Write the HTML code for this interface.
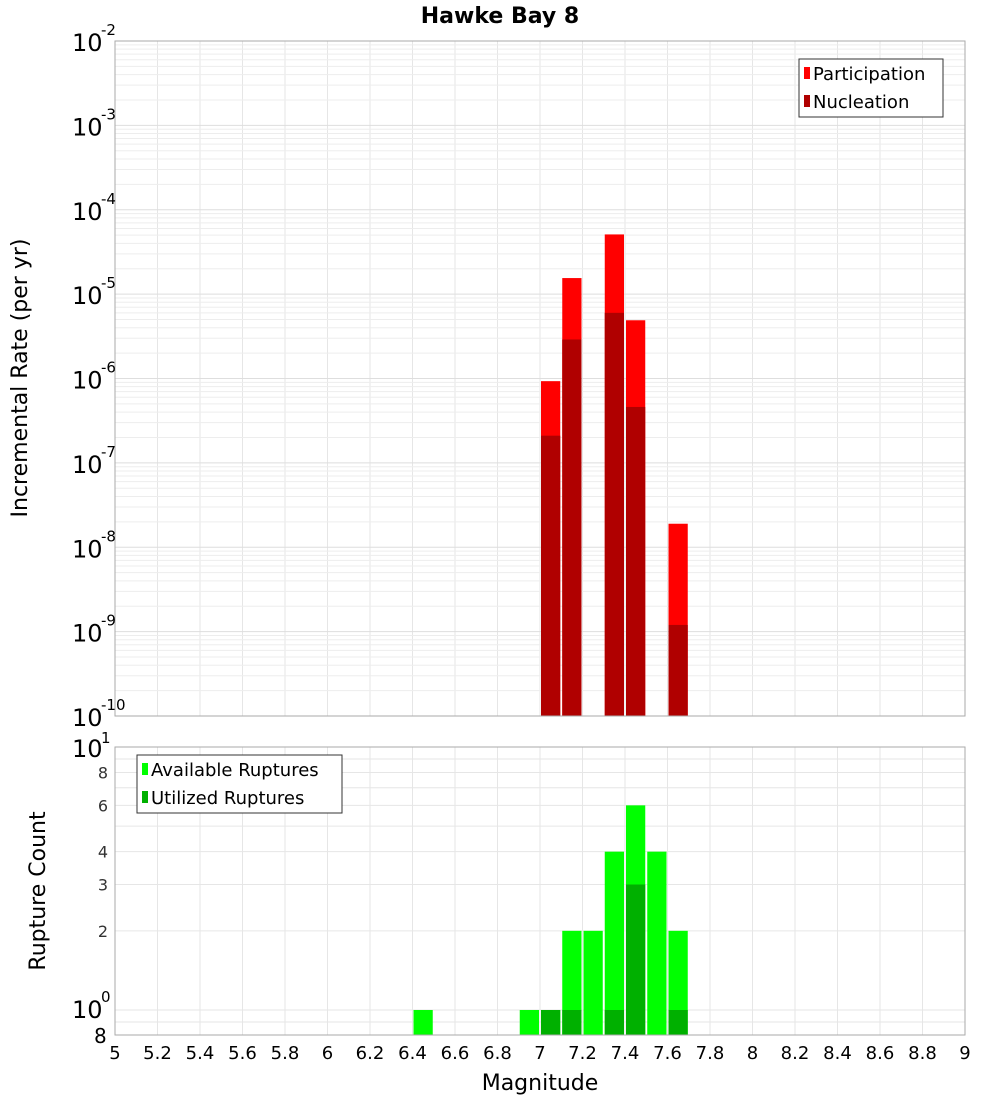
<!DOCTYPE html>
<html><head><meta charset="utf-8"><style>
body{margin:0;background:#fff}
svg{display:block;font-family:"DejaVu Sans","Liberation Sans",sans-serif}
</style></head><body>
<svg id="c" width="1000" height="1100"></svg>
<script>
const partMags=[7.05,7.15,7.35,7.45,7.65];
const partVals=[9.3e-7,1.55e-5,5.1e-5,4.9e-6,1.9e-8];
const nuclVals=[2.1e-7,2.9e-6,6.0e-6,4.6e-7,1.2e-9];
const cntMags=[6.45,6.95,7.05,7.15,7.25,7.35,7.45,7.55,7.65];
const availVals=[1,1,1,2,2,4,6,4,2];
const utilMags=[7.05,7.15,7.35,7.45,7.65];
const utilVals=[1,1,1,3,1];
const xTicks=[5,5.2,5.4,5.6,5.8,6,6.2,6.4,6.6,6.8,7,7.2,7.4,7.6,7.8,8,8.2,8.4,8.6,8.8,9];
const topExps=[-2,-3,-4,-5,-6,-7,-8,-9,-10];
const botTicks=[[8,'8'],[6,'6'],[4,'4'],[3,'3'],[2,'2']];

const NS='http://www.w3.org/2000/svg',svg=document.getElementById('c');
function el(t,a,p){const e=document.createElementNS(NS,t);for(const k in a)e.setAttribute(k,a[k]);(p||svg).appendChild(e);return e;}
const X0=115,X1=965;
const x=m=>X0+(m-5)/4*(X1-X0);
const T0=41,T1=716;
const yT=v=>T0+(-2-Math.log10(v))/8*(T1-T0);
const B0=747,B1=1035;
const yB=v=>B0+(1-Math.log10(v))*263;
const bw=(x(5.1)-x(5))-2;

// grids
const g=el('g',{});
xTicks.forEach(t=>{[[T0,T1],[B0,B1]].forEach(r=>el('line',{x1:x(t),x2:x(t),y1:r[0],y2:r[1],stroke:'#e6e6e6'},g));});
for(let e=-10;e<-2;e++)for(let k=1;k<10;k++){const y=yT(k*Math.pow(10,e));el('line',{x1:X0,x2:X1,y1:y,y2:y,stroke:k==1?'#dedede':'#ededed'},g);}
for(let k=1;k<=10;k++){const y=yB(k);if(y<=B1)el('line',{x1:X0,x2:X1,y1:y,y2:y,stroke:'#e6e6e6'},g);}
el('line',{x1:X0,x2:X1,y1:yB(0.9),y2:yB(0.9),stroke:'#e6e6e6'},g);

// top bars
partMags.forEach((m,i)=>{
 const r=el('rect',{x:x(m)-bw/2,y:yT(partVals[i]),width:bw,height:T1-yT(partVals[i]),fill:'#ff0000'});
 
 const n=el('rect',{x:x(m)-bw/2,y:yT(nuclVals[i]),width:bw,height:T1-yT(nuclVals[i]),fill:'#b00000'});
 
});
cntMags.forEach((m,i)=>{
 const r=el('rect',{x:x(m)-bw/2,y:yB(availVals[i]),width:bw,height:B1-yB(availVals[i]),fill:'#00ff00'});
 
});
utilMags.forEach((m,i)=>{
 const r=el('rect',{x:x(m)-bw/2,y:yB(utilVals[i]),width:bw,height:B1-yB(utilVals[i]),fill:'#00b000'});
 
});

// frames
el('rect',{x:X0,y:T0,width:X1-X0,height:T1-T0,fill:'none',stroke:'#aaa'});
el('rect',{x:X0,y:B0,width:X1-X0,height:B1-B0,fill:'none',stroke:'#aaa'});

// top y labels
topExps.forEach(e=>{
 const y=yT(Math.pow(10,e));
 const t=el('text',{x:72,y:y+10,'font-size':24});t.textContent='10';
 
 const s=el('text',{x:101,y:y-6,'font-size':15});s.textContent=String(e).replace('-','-');
});
// bottom y labels
let t=el('text',{x:72,y:B0+10,'font-size':24});t.textContent='10';
t=el('text',{x:101,y:B0-4,'font-size':15});t.textContent='1';
t=el('text',{x:72,y:yB(1)+8,'font-size':24});t.textContent='10';
t=el('text',{x:101,y:yB(1)-8,'font-size':15});t.textContent='0';
t=el('text',{x:94,y:B1+8,'font-size':20});t.textContent='8';
botTicks.forEach(b=>{const tt=el('text',{x:108,y:yB(b[0])+6,'font-size':16,'text-anchor':'end',fill:'#333'});tt.textContent=b[1];
 });
// x ticks
xTicks.forEach(v=>{const tt=el('text',{x:x(v),y:1059,'font-size':18,'text-anchor':'middle'});tt.textContent=String(v);
 });

// titles
t=el('text',{x:500,y:23,'font-size':22,'font-weight':'bold','text-anchor':'middle'});t.textContent='Hawke Bay 8';

t=el('text',{x:540,y:1090,'font-size':22,'text-anchor':'middle'});t.textContent='Magnitude';

t=el('text',{x:27,y:378,'font-size':22,'text-anchor':'middle',transform:'rotate(-90 27 378)'});t.textContent='Incremental Rate (per yr)';

t=el('text',{x:45,y:891,'font-size':22,'text-anchor':'middle',transform:'rotate(-90 45 891)'});t.textContent='Rupture Count';


// legends
function legend(x0,y0,w,items,name){
 const lg=el('g',{});
 el('rect',{x:x0,y:y0,width:w,height:58,fill:'#fff',stroke:'#333'},lg);
 items.forEach((it,i)=>{const yy=y0+14+i*28;
  el('rect',{x:x0+5,y:yy-6,width:6,height:12,fill:it[1]},lg);
  const tx=el('text',{x:x0+14,y:yy+7,'font-size':18},lg);tx.textContent=it[0];});
}
legend(799,59,144,[['Participation','#ff0000'],['Nucleation','#b00000']],'legend-top');
legend(137,755,205,[['Available Ruptures','#00ff00'],['Utilized Ruptures','#00b000']],'legend-bottom');
</script>
</body></html>
